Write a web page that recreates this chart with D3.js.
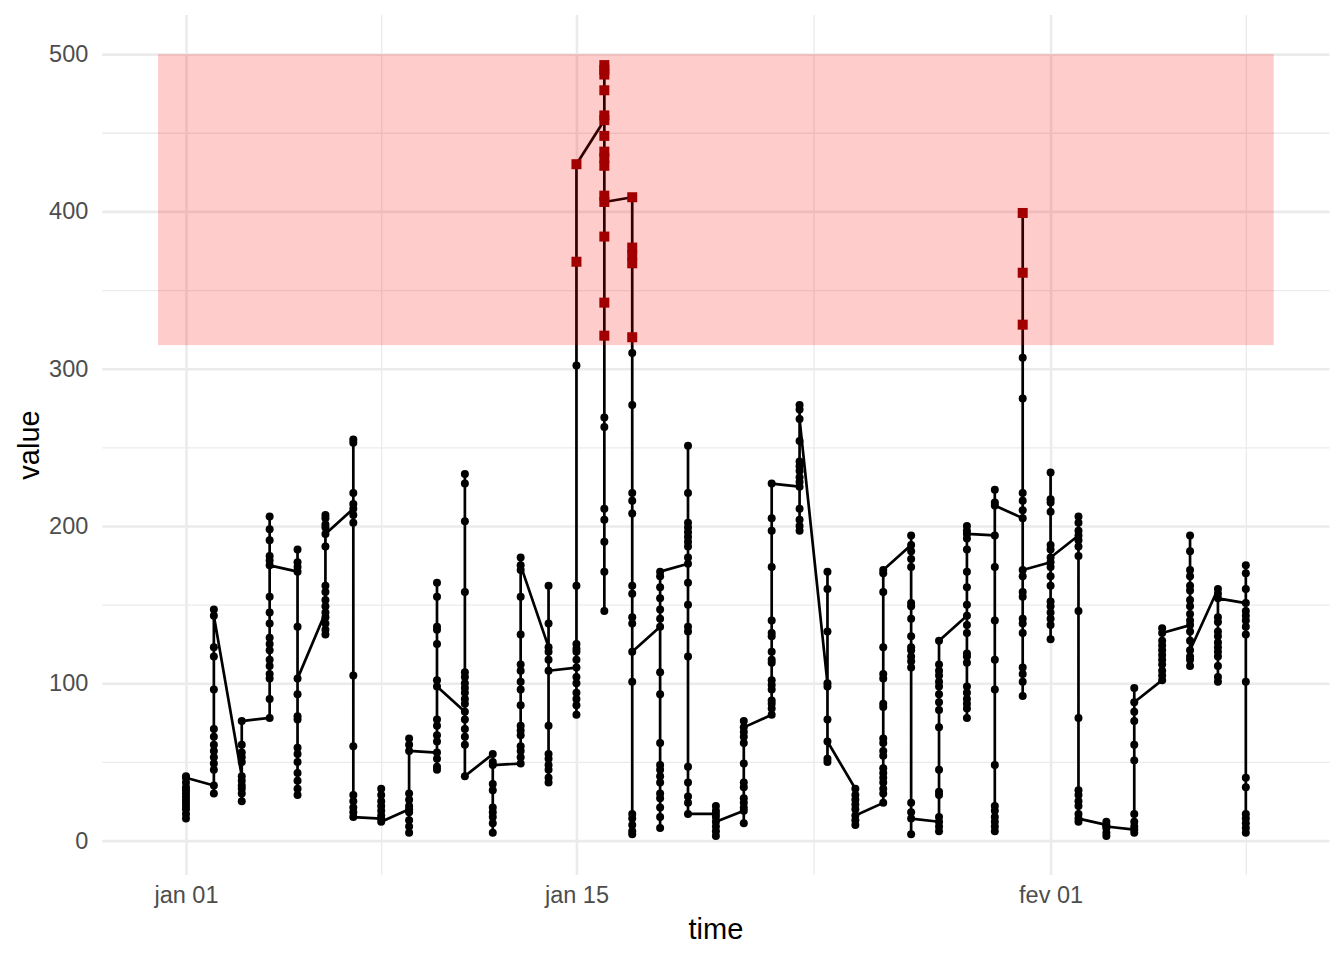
<!DOCTYPE html>
<html>
<head>
<meta charset="utf-8">
<script src="https://cdn.jsdelivr.net/npm/d3@7"></script>
<style>
  body { margin: 0; background: #fff; }
  svg { display: block; font-family: "Liberation Sans", Arial, sans-serif; }
</style>
</head>
<body>
<svg id="chart" width="1344" height="960"></svg>
<script>
// ── data ───────────────────────────────────────────────────────────────────
const dates = [
  '2021-01-01','2021-01-02','2021-01-03','2021-01-04','2021-01-05','2021-01-06','2021-01-07',
  '2021-01-08','2021-01-09','2021-01-10','2021-01-11','2021-01-12','2021-01-13','2021-01-14',
  '2021-01-15','2021-01-16','2021-01-17','2021-01-18','2021-01-19','2021-01-20','2021-01-21',
  '2021-01-22','2021-01-23','2021-01-24','2021-01-25','2021-01-26','2021-01-27','2021-01-28',
  '2021-01-29','2021-01-30','2021-01-31','2021-02-01','2021-02-02','2021-02-03','2021-02-04',
  '2021-02-05','2021-02-06','2021-02-07','2021-02-08'
];
// readings of each day, in the order the line visits them
const dayValues = [
  [14, 17, 20, 22, 24, 26, 28, 30, 32, 34, 37, 41, 40],
  [35, 30, 45, 49, 53, 57, 61, 66, 71, 96, 117, 123, 147, 143],
  [41, 38, 35, 33, 30, 25, 50, 53, 56, 61, 76],
  [78, 90, 103, 106, 111, 115, 121, 125, 129, 138, 145, 155, 181, 191, 198, 206, 178, 175],
  [171, 174, 177, 185, 136, 93, 79, 77, 59, 55, 50, 43, 38, 33, 29, 103],
  [145, 142, 138, 134, 131, 149, 153, 158, 162, 187, 199, 201, 205, 207, 195],
  [211, 214, 221, 253, 255, 207, 202, 105, 60, 29, 25, 21, 18, 15],
  [14, 19, 22, 25, 29, 33, 16, 12],
  [20, 18, 13, 9, 5, 22, 26, 30, 61, 65, 57],
  [56, 52, 47, 45, 63, 67, 73, 77, 102, 125, 134, 136, 155, 164, 98],
  [82, 87, 90, 94, 97, 100, 104, 107, 158, 203, 227, 233, 77, 71, 66, 61, 41],
  [55, 50, 36, 32, 21, 18, 15, 11, 5, 48],
  [49, 53, 57, 60, 67, 70, 73, 86, 96, 101, 108, 112, 131, 155, 172, 180, 175],
  [123, 138, 162, 120, 115, 73, 55, 52, 48, 45, 40, 37, 108],
  [110, 104, 100, 94, 90, 86, 80, 115, 120, 122, 125, 162, 302, 368, 430],
  [458, 461, 477, 487, 490, 493, 448, 438, 434, 429, 384, 342, 321, 269, 263, 211, 204, 190, 171, 146, 410, 406],
  [409, 377, 372, 367, 320, 310, 277, 221, 216, 208, 162, 157, 142, 138, 101, 17, 14, 10, 6, 4, 120],
  [136, 141, 147, 154, 161, 107, 93, 62, 48, 45, 41, 37, 30, 27, 21, 15, 8, 168, 171],
  [176, 180, 187, 190, 193, 196, 199, 202, 221, 251, 164, 150, 136, 133, 117, 47, 37, 28, 24, 17],
  [17, 22, 19, 15, 9, 6, 3, 12],
  [19, 21, 24, 27, 34, 37, 11, 49, 62, 66, 69, 76, 72],
  [80, 84, 87, 89, 96, 99, 102, 113, 115, 120, 130, 132, 140, 174, 197, 205, 227],
  [225, 228, 231, 235, 238, 241, 211, 204, 200, 197, 254, 274, 277, 268],
  [100, 98, 133, 160, 171, 77, 52, 50, 63],
  [33, 29, 26, 23, 20, 13, 10, 16],
  [24, 30, 33, 37, 40, 43, 46, 54, 57, 62, 65, 85, 87, 103, 106, 123, 158, 170, 172],
  [188, 194, 184, 179, 174, 151, 149, 141, 130, 123, 121, 117, 114, 110, 24, 18, 4, 14],
  [12, 9, 6, 15, 29, 31, 45, 72, 83, 88, 93, 98, 101, 105, 108, 112, 127],
  [143, 137, 132, 119, 117, 113, 98, 94, 90, 87, 84, 78, 150, 161, 171, 185, 192, 197, 200, 195],
  [194, 174, 140, 115, 96, 48, 22, 19, 15, 12, 9, 6, 223, 215, 213],
  [205, 210, 216, 221, 281, 307, 328, 361, 399, 168, 158, 155, 141, 138, 132, 110, 106, 101, 92, 172],
  [177, 174, 168, 162, 152, 149, 145, 141, 137, 128, 185, 188, 209, 215, 217, 234, 180],
  [194, 197, 202, 206, 191, 187, 181, 146, 78, 32, 29, 25, 22, 17, 12, 14],
  [10, 12, 8, 5, 3, 9],
  [7, 5, 9, 12, 17, 51, 61, 76, 82, 97, 88],
  [102, 105, 108, 112, 115, 118, 121, 124, 127, 135, 132],
  [137, 140, 144, 149, 153, 159, 162, 168, 172, 184, 194, 133, 127, 117, 115, 111, 121],
  [160, 142, 139, 133, 130, 126, 123, 120, 117, 111, 104, 101, 157, 154],
  [151, 146, 143, 140, 136, 131, 101, 40, 34, 17, 14, 11, 8, 5, 160, 170, 175]
];
// highlighted band
const bandLow = 315, bandHigh = 500;
const bandStart = '2020-12-31', bandEnd = '2021-02-09';
// ticks
const xMajor = ['2021-01-01 00', '2021-01-15 00', '2021-02-01 00'];
const xLabels = ['jan 01', 'jan 15', 'fev 01'];
const xMinor = ['2021-01-08 00', '2021-01-23 12', '2021-02-08 00'];
const yMajor = [0, 100, 200, 300, 400, 500];
const yMinor = [50, 150, 250, 350, 450];

// ── setup ──────────────────────────────────────────────────────────────────
const parseDay = d3.utcParse('%Y-%m-%d');
const parseHour = d3.utcParse('%Y-%m-%d %H');
const points = [];
dates.forEach((s, i) => dayValues[i].forEach(v => points.push({ t: parseDay(s), v })));

const panel = { left: 102.3, right: 1329.5, top: 15, bottom: 875 };
const pw = panel.right - panel.left, ph = panel.bottom - panel.top;

const t0 = parseDay(bandStart), t1 = parseDay(bandEnd);
const tPad = (t1 - t0) * 0.05;
const x = d3.scaleUtc().domain([new Date(+t0 - tPad), new Date(+t1 + tPad)]).range([panel.left, panel.right]);
const vMin = d3.min(points, d => d.v);
const vPad = (bandHigh - vMin) * 0.05;
const y = d3.scaleLinear().domain([vMin - vPad, bandHigh + vPad]).range([panel.bottom, panel.top]);

const svg = d3.select('#chart');

// ── grid ───────────────────────────────────────────────────────────────────
function grid(g, width) {
  g.select('.domain').remove();
  g.selectAll('line').attr('stroke', '#ebebeb').attr('stroke-width', width);
}
svg.append('g').attr('transform', `translate(${panel.left},0)`)
  .call(d3.axisLeft(y).tickValues(yMinor).tickSize(-pw).tickFormat(''))
  .call(g => grid(g, 1.3));
svg.append('g').attr('transform', `translate(0,${panel.bottom})`)
  .call(d3.axisBottom(x).tickValues(xMinor.map(parseHour)).tickSize(-ph).tickFormat(''))
  .call(g => grid(g, 1.3));
svg.append('g').attr('transform', `translate(${panel.left},0)`)
  .call(d3.axisLeft(y).tickValues(yMajor).tickSize(-pw).tickFormat(''))
  .call(g => grid(g, 2.6));
svg.append('g').attr('transform', `translate(0,${panel.bottom})`)
  .call(d3.axisBottom(x).tickValues(xMajor.map(parseHour)).tickSize(-ph).tickFormat(''))
  .call(g => grid(g, 2.6));

// ── marks ──────────────────────────────────────────────────────────────────
svg.append('path').datum(points)
  .attr('fill', 'none').attr('stroke', '#000').attr('stroke-width', 2.7)
  .attr('stroke-linejoin', 'round')
  .attr('d', d3.line().x(d => x(d.t)).y(d => y(d.v)));

svg.append('g').selectAll('circle').data(points.filter(d => d.v <= bandLow)).join('circle')
  .attr('cx', d => x(d.t)).attr('cy', d => y(d.v)).attr('r', 4).attr('fill', '#000');

const sq = 10;
svg.append('g').selectAll('rect').data(points.filter(d => d.v > bandLow)).join('rect')
  .attr('x', d => x(d.t) - sq / 2).attr('y', d => y(d.v) - sq / 2)
  .attr('width', sq).attr('height', sq).attr('fill', '#8b0000');

svg.append('rect')
  .attr('x', x(t0)).attr('width', x(t1) - x(t0))
  .attr('y', y(bandHigh)).attr('height', y(bandLow) - y(bandHigh))
  .attr('fill', 'red').attr('fill-opacity', 0.2);

// ── axes ───────────────────────────────────────────────────────────────────
function labels(g) {
  g.select('.domain').remove();
  g.selectAll('text').attr('font-size', 23.5).attr('fill', '#4d4d4d')
    .attr('font-family', '"Liberation Sans", Arial, sans-serif');
}
svg.append('g').attr('transform', `translate(${panel.left},0)`)
  .call(d3.axisLeft(y).tickValues(yMajor).tickSize(0).tickPadding(14))
  .call(labels);
svg.append('g').attr('transform', `translate(0,${panel.bottom})`)
  .call(d3.axisBottom(x).tickValues(xMajor.map(parseHour)).tickSize(0).tickPadding(11)
    .tickFormat((d, i) => xLabels[i]))
  .call(labels);

svg.append('text').attr('x', (panel.left + panel.right) / 2).attr('y', 939)
  .attr('text-anchor', 'middle').attr('font-size', 29).attr('fill', '#000').text('time');
svg.append('text').attr('transform', `translate(39,${(panel.top + panel.bottom) / 2}) rotate(-90)`)
  .attr('text-anchor', 'middle').attr('font-size', 29).attr('fill', '#000').text('value');
</script>
</body>
</html>
